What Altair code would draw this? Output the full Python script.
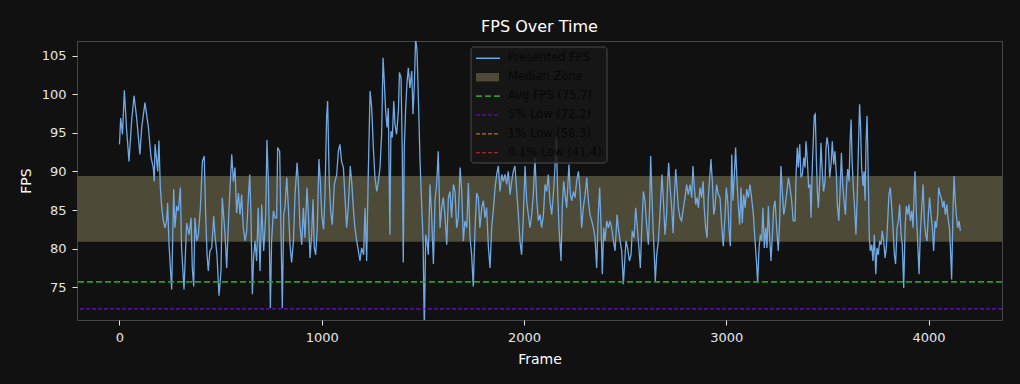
import altair as alt
import pandas as pd

# ---------------- data ----------------
frames_a = [0, 6, 15, 24, 35, 47, 60, 72, 85, 101, 110, 126, 143, 156, 167, 172, 176, 189, 195, 202,
            209, 217, 225, 233, 238, 245, 258, 268, 274, 283, 291, 301, 307, 319, 332, 344, 354, 360, 367, 373,
            382, 390, 400, 410, 419, 426, 433, 439, 447, 456, 466, 472, 482, 492, 502, 508, 522, 530, 541, 555,
            563, 571, 579, 588, 596, 604, 612, 621, 629, 637, 644, 650, 657, 663, 670, 678, 686, 695, 703, 713,
            723, 729, 736, 742, 746, 752, 761, 769, 777, 782, 792, 798, 805, 812]
fps_a = [93.5, 96.9, 94.8, 100.5, 95.5, 91.3, 96.5, 99.8, 96.9, 92.2, 95.7, 98.9, 95.7, 91.8, 90.5, 88.7, 93.5, 90.0, 94.0, 87.9,
         85.3, 83.6, 82.7, 83.6, 85.9, 80.5, 74.7, 87.7, 82.7, 85.5, 84.9, 87.9, 80.1, 74.7, 83.3, 81.8, 84.0, 77.5, 75.1, 84.0,
         81.0, 81.8, 85.3, 91.3, 92.0, 84.4, 79.2, 77.1, 79.7, 80.1, 84.2, 81.8, 79.2, 73.9, 77.1, 86.6, 81.8, 77.5, 84.9, 92.2,
         88.7, 90.5, 84.6, 87.2, 84.4, 87.0, 82.7, 81.0, 82.3, 86.6, 89.6, 84.4, 74.1, 78.8, 81.0, 78.4, 85.3, 77.1, 85.7, 79.7,
         84.4, 94.1, 88.7, 79.2, 72.3, 81.0, 84.9, 84.0, 84.0, 93.1, 92.6, 83.1, 72.3, 84.4]

frames_b = [818, 827, 835, 843, 851, 860, 868, 878, 884, 892, 901, 909, 917, 927, 934, 942, 950, 957, 963, 970,
            978, 986, 993, 1000, 1009, 1016, 1024, 1029, 1037, 1044, 1052, 1062, 1074, 1082, 1090, 1098, 1107, 1115, 1123, 1131,
            1141, 1148, 1156, 1164, 1173, 1181, 1189, 1197, 1207, 1214, 1222, 1230, 1239, 1247, 1255, 1263, 1272, 1280, 1288, 1296,
            1303, 1309, 1316, 1323, 1329, 1337, 1342, 1349, 1356, 1362, 1370, 1379, 1384, 1392, 1398, 1403, 1408, 1415, 1421, 1428,
            1436, 1445, 1451, 1458, 1464, 1471, 1478, 1486, 1494, 1501, 1507, 1514, 1520, 1527, 1535, 1543, 1552, 1560, 1568, 1576,
            1585, 1593, 1601, 1609, 1618, 1626, 1634, 1642, 1651]
fps_b = [85.3, 89.2, 85.3, 80.5, 78.2, 81.0, 87.0, 91.1, 88.7, 83.1, 80.5, 85.3, 81.4, 87.9, 84.4, 78.8, 81.8, 86.4, 80.1, 79.2,
         82.7, 91.6, 88.7, 84.4, 82.5, 87.0, 97.0, 99.1, 88.7, 84.9, 83.1, 88.3, 89.6, 92.6, 93.5, 91.3, 90.5, 86.6, 82.7, 85.3,
         90.7, 88.7, 85.3, 82.7, 81.0, 79.7, 78.4, 80.1, 79.2, 85.3, 78.4, 89.6, 100.4, 98.2, 93.1, 89.2, 87.4, 88.7, 90.5, 94.8,
         104.7, 101.7, 97.8, 95.7, 98.2, 81.8, 95.2, 94.4, 99.1, 96.1, 94.8, 97.8, 102.8, 102.1, 92.6, 78.2, 93.1, 98.2, 101.3, 103.4,
         100.8, 103.0, 97.4, 101.3, 107.2, 105.6, 99.1, 91.3, 85.7, 81.0, 69.5, 81.8, 81.0, 79.2, 88.3, 84.4, 78.0, 86.2, 88.3, 92.6,
         82.7, 85.3, 86.6, 84.4, 80.5, 86.6, 87.4, 84.0, 88.3]

frames_c = [1659, 1667, 1675, 1684, 1692, 1700, 1708, 1717, 1725, 1733, 1741, 1749, 1758, 1766, 1774, 1782, 1791, 1799, 1807, 1815,
            1824, 1832, 1840, 1848, 1857, 1865, 1873, 1881, 1890, 1898, 1906, 1914, 1922, 1931, 1939, 1947, 1955, 1964, 1972, 1980,
            1988, 1997, 2005, 2013, 2021, 2030, 2038, 2046, 2054, 2063, 2071, 2079, 2087, 2096, 2104, 2112, 2120, 2128, 2137, 2145,
            2153, 2160, 2166, 2173, 2183, 2189, 2196, 2203, 2211, 2222, 2229, 2236, 2244, 2252, 2260, 2269, 2277, 2285, 2293, 2302,
            2310, 2318, 2326, 2335, 2343, 2351, 2359, 2367, 2374, 2381, 2387, 2394, 2400, 2409, 2417, 2425, 2433, 2442, 2450, 2460,
            2466, 2475, 2483, 2491]
fps_c = [87.4, 82.7, 84.0, 90.5, 87.4, 81.0, 83.6, 82.7, 88.5, 81.4, 79.2, 75.1, 82.7, 87.2, 86.6, 82.7, 85.3, 86.2, 84.0, 85.3,
         80.1, 77.5, 82.7, 84.9, 87.9, 89.6, 90.7, 87.4, 89.6, 88.7, 89.6, 88.3, 90.0, 87.0, 88.7, 90.0, 90.7, 87.4, 84.4, 81.0,
         79.2, 84.4, 90.7, 86.2, 84.4, 82.7, 84.4, 87.0, 91.8, 86.2, 83.6, 84.4, 82.7, 84.4, 88.3, 87.4, 89.6, 86.2, 84.4, 87.0,
         90.5, 94.4, 87.4, 82.7, 78.4, 85.3, 88.7, 87.0, 85.3, 90.9, 87.0, 86.2, 87.4, 86.6, 88.7, 90.0, 87.4, 82.7, 85.3, 87.0,
         89.2, 86.2, 84.4, 83.6, 82.7, 81.4, 77.5, 84.4, 87.9, 82.7, 76.7, 82.7, 81.0, 83.6, 82.7, 83.6, 82.7, 81.0, 79.7, 84.4,
         82.7, 81.0, 79.7, 75.4]

frames_d = [2504, 2512, 2521, 2529, 2535, 2544, 2552, 2560, 2568, 2575, 2582, 2590, 2598, 2606, 2615, 2621, 2626, 2631, 2638, 2644,
            2649, 2656, 2664, 2671, 2677, 2682, 2689, 2697, 2705, 2710, 2715, 2722, 2730, 2737, 2743, 2750, 2756, 2763, 2771, 2779,
            2788, 2796, 2804, 2812, 2821, 2829, 2835, 2842, 2849, 2855, 2862, 2870, 2878, 2885, 2891, 2898, 2905, 2911, 2919, 2924,
            2931, 2938, 2944, 2952, 2961, 2969, 2977, 2985, 2994, 3000, 3007, 3013, 3020, 3027, 3033, 3040, 3046, 3053, 3060, 3066,
            3073, 3079, 3086, 3093, 3101, 3109, 3117, 3125, 3134, 3142, 3149, 3155, 3162, 3168, 3175, 3181, 3188, 3195, 3201, 3208,
            3214, 3221, 3228, 3234, 3241, 3249, 3257, 3264, 3270, 3277, 3284, 3290, 3298, 3307, 3315, 3323, 3331]
fps_d = [81.0, 80.1, 78.4, 79.2, 82.3, 81.4, 85.3, 82.7, 80.1, 77.5, 82.7, 87.4, 86.2, 83.1, 80.5, 85.3, 92.0, 87.9, 82.7, 79.2,
         75.8, 79.2, 81.0, 84.0, 87.0, 89.6, 86.2, 81.8, 84.4, 88.7, 91.1, 87.9, 85.3, 82.0, 86.6, 90.3, 87.9, 85.3, 84.0, 83.6,
         85.3, 86.6, 88.3, 87.0, 88.3, 86.6, 90.7, 87.9, 85.7, 86.6, 85.3, 87.9, 86.6, 88.7, 85.3, 82.7, 81.4, 86.6, 89.6, 91.6,
         88.7, 84.4, 85.3, 88.3, 87.0, 86.6, 83.1, 80.3, 84.4, 87.9, 86.2, 82.7, 80.3, 92.2, 86.2, 89.6, 93.1, 88.7, 85.3, 83.1,
         87.9, 83.3, 87.0, 85.3, 87.7, 86.6, 88.3, 86.6, 84.4, 81.0, 78.4, 75.6, 80.1, 81.8, 81.0, 85.3, 80.1, 82.7, 80.1, 85.5,
         81.8, 78.4, 81.8, 85.3, 86.2, 82.7, 79.7, 83.6, 90.7, 87.4, 84.4, 85.3, 87.0, 89.2, 87.9, 86.2, 83.6]

frames_e = [3340, 3345, 3351, 3356, 3363, 3369, 3376, 3383, 3389, 3394, 3401, 3407, 3414, 3419, 3425, 3430, 3435, 3440, 3445, 3450,
            3455, 3462, 3468, 3475, 3481, 3488, 3493, 3498, 3505, 3511, 3518, 3524, 3531, 3537, 3544, 3549, 3556, 3562, 3569, 3575,
            3582, 3589, 3595, 3600, 3607, 3612, 3617, 3622, 3628, 3635, 3641, 3648, 3654, 3659, 3664, 3669, 3676, 3681, 3686, 3691,
            3696, 3701, 3707, 3712, 3719, 3725, 3732, 3739, 3745, 3752, 3758, 3765, 3771, 3778, 3785, 3791, 3798, 3804, 3811, 3818,
            3824, 3831, 3837, 3844, 3851, 3857, 3864, 3870, 3877, 3884, 3890, 3897, 3903, 3910, 3917, 3923, 3930, 3933, 3940, 3946,
            3953, 3959, 3966, 3973, 3979, 3986, 3992, 3999, 4005, 4012, 4019, 4025, 4032, 4038, 4045, 4050, 4057, 4063, 4070, 4076,
            4083, 4090, 4096, 4103, 4108, 4114, 4121, 4126, 4131, 4137, 4144, 4151, 4157]
fps_e = [83.6, 89.6, 93.1, 90.5, 93.5, 89.2, 89.6, 91.8, 90.5, 93.9, 91.3, 87.9, 88.3, 84.0, 90.5, 93.9, 97.2, 97.4, 91.8, 87.4,
         85.3, 88.7, 93.7, 89.6, 87.4, 88.7, 93.1, 94.4, 93.1, 89.2, 90.9, 93.9, 90.9, 92.6, 89.6, 85.7, 83.6, 87.0, 92.4, 88.3,
         86.2, 84.4, 88.3, 90.3, 88.7, 93.9, 96.7, 91.3, 87.9, 84.9, 81.8, 87.4, 93.9, 98.7, 95.7, 90.5, 88.1, 90.0, 86.2, 93.9,
         97.2, 90.5, 81.4, 79.7, 80.5, 78.4, 81.8, 76.7, 80.1, 79.2, 81.0, 80.5, 82.3, 81.0, 78.8, 80.1, 83.6, 87.0, 87.9, 85.3,
         82.7, 79.2, 78.0, 82.7, 83.6, 85.7, 81.8, 80.5, 74.9, 82.7, 85.5, 84.4, 85.7, 83.6, 84.9, 82.7, 88.3, 90.0, 84.4, 81.0,
         76.7, 81.8, 85.3, 88.3, 83.6, 81.8, 81.0, 84.4, 86.6, 84.4, 82.7, 79.7, 83.6, 82.7, 84.4, 87.9, 87.0, 86.6, 85.3, 86.2,
         84.4, 85.7, 84.0, 82.7, 80.1, 76.0, 85.3, 89.4, 86.6, 84.4, 82.7, 83.6, 82.3]

median_low = 80.9
median_high = 89.4

stat_names = ["Avg FPS", "5% Low", "1% Low", "0.1% Low"]
stat_values = [75.7, 72.2, 58.3, 41.4]
stat_colors = ["#2a9a2a", "#6a10d0", "#b8750e", "#c62f2f"]
stat_widths = [1.6, 1.1, 1.1, 1.1]
stat_dashes = [[6, 3], [4, 2], [4, 2], [4, 2]]

x_ticks = [0, 1000, 2000, 3000, 4000]
y_ticks = [75, 80, 85, 90, 95, 100, 105]

# ---------------- styling ----------------
BG = "#111111"
LINE = "#70a9e4"
ZONE = "#4d4b37"
FONT = "DejaVu Sans"
W, H = 925, 279

# make the page behind the chart (the 8px body margin) dark as well
try:
    import altair.utils.html as _ah

    _orig_tpl = _ah.TEMPLATES["standard"]

    class _DarkPage:
        def render(self, *args, **kwargs):
            html = _orig_tpl.render(*args, **kwargs)
            return html.replace(
                "<head>", "<head><style>html, body { background: #111111; }</style>", 1
            )

    _ah.TEMPLATES["standard"] = _DarkPage()
except Exception:
    pass

frames = frames_a + frames_b + frames_c + frames_d + frames_e
fps = fps_a + fps_b + fps_c + fps_d + fps_e
df = pd.DataFrame({"frame": frames, "fps": fps})

xscale = alt.Scale(domain=[-210, 4363], nice=False, zero=False)
yscale = alt.Scale(domain=[70.76, 106.88], nice=False, zero=False)

x_axis = alt.Axis(values=x_ticks, format="d", title="Frame")
y_axis = alt.Axis(values=y_ticks, format="d", title="FPS")

zone = alt.Chart(pd.DataFrame({"lo": [median_low], "hi": [median_high]})).mark_rect(
    color=ZONE, opacity=1
).encode(
    y=alt.Y("lo:Q", scale=yscale, axis=y_axis),
    y2="hi:Q",
)

line = alt.Chart(df).mark_line(color=LINE, strokeWidth=1.3, clip=True).encode(
    x=alt.X("frame:Q", scale=xscale, axis=x_axis),
    y=alt.Y("fps:Q", scale=yscale, axis=y_axis),
    order="frame:Q",
)

layers = [zone, line]
for name, val, col, sw, dash in zip(stat_names, stat_values, stat_colors, stat_widths, stat_dashes):
    layers.append(
        alt.Chart(pd.DataFrame({"v": [val]})).mark_rule(
            color=col, strokeWidth=sw, strokeDash=dash, clip=True
        ).encode(y=alt.Y("v:Q", scale=yscale, axis=y_axis))
    )

# ---------------- legend (drawn by hand, upper centre) ----------------
one = pd.DataFrame({"k": [0]})
box_l, box_r, box_t, box_b = 394, 530, 6, 122
layers.append(
    alt.Chart(one).mark_rect(
        fill="#171717", fillOpacity=0.85, stroke="#4a4a4a", strokeWidth=1, cornerRadius=3
    ).encode(x=alt.value(box_l), x2=alt.value(box_r), y=alt.value(box_t), y2=alt.value(box_b))
)

legend_labels = ["Presented FPS", "Median Zone"] + [f"{n} ({v})" for n, v in zip(stat_names, stat_values)]
row0, gap = 17.3, 18.9
sym_l, sym_r, txt_x = 399, 423, 431
for i, lab in enumerate(legend_labels):
    yy = row0 + i * gap
    if i == 0:
        layers.append(
            alt.Chart(one).mark_rule(color=LINE, strokeWidth=1.5).encode(
                x=alt.value(sym_l), x2=alt.value(sym_r), y=alt.value(yy))
        )
    elif i == 1:
        layers.append(
            alt.Chart(one).mark_rect(color=ZONE, opacity=1).encode(
                x=alt.value(sym_l), x2=alt.value(sym_r - 1), y=alt.value(yy - 4.2), y2=alt.value(yy + 4.2))
        )
    else:
        j = i - 2
        layers.append(
            alt.Chart(one).mark_rule(color=stat_colors[j], strokeWidth=stat_widths[j], strokeDash=stat_dashes[j]).encode(
                x=alt.value(sym_l), x2=alt.value(sym_r), y=alt.value(yy))
        )
    layers.append(
        alt.Chart(one).mark_text(
            align="left", baseline="middle", font=FONT, fontSize=11.5, color="#070707"
        ).encode(x=alt.value(txt_x), y=alt.value(yy), text=alt.value(lab))
    )

chart = alt.layer(*layers).properties(
    width=W,
    height=H,
    autosize=alt.AutoSizeParams(type="none"),
    padding={"left": 69, "top": 33, "right": 10, "bottom": 56},
    background=BG,
    title=alt.TitleParams(
        "FPS Over Time", color="#ffffff", fontSize=16, font=FONT, fontWeight="normal",
        anchor="middle", offset=6,
    ),
).configure_view(
    stroke="#474747", strokeWidth=1, fill=BG
).configure_axis(
    domain=False,
    grid=False,
    labelColor="#e6e6e6",
    labelFont=FONT,
    labelFontSize=13,
    tickColor="#e6e6e6",
    tickSize=5,
    tickWidth=1,
    titleColor="#ffffff",
    titleFont=FONT,
    titleFontSize=14,
    titleFontWeight="normal",
).configure_axisX(
    labelPadding=6,
    titlePadding=8,
).configure_axisY(
    titlePadding=8,
    labelPadding=6,
)

chart.save("out.html", embed_options={"renderer": "svg", "actions": False})
